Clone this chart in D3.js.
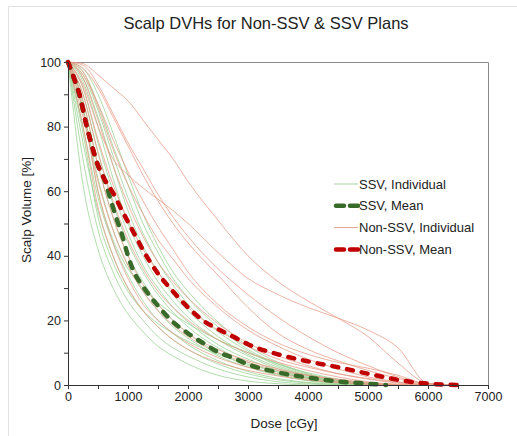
<!DOCTYPE html>
<html>
<head>
<meta charset="utf-8">
<script src="https://cdn.jsdelivr.net/npm/d3@7"></script>
<style>
  html, body { margin: 0; padding: 0; background: #fff; }
  svg { display: block; }
</style>
</head>
<body>
<svg id="chart" width="517" height="436" font-family="Liberation Sans, Arial, sans-serif"></svg>
<script>
// dose grid shared by every curve (cGy)
const doses = [0, 250, 500, 750, 1000, 1250, 1500, 1750, 2000, 2500, 3000, 3500, 4000, 4500, 5000, 5500, 6000, 6500];

// SSV plans, individual DVHs (volume % at each dose)
const ssvIndividual = [
  [100, 62, 42, 30, 22, 16.5, 12, 9, 6.5, 3, 1.2, 0.4, 0, 0, 0, 0, 0, 0],
  [100, 70, 48, 35, 26, 20, 15, 11.5, 9, 5, 2.5, 1, 0.3, 0, 0, 0, 0, 0],
  [100, 75, 54, 40, 30, 23, 18, 14, 11, 6.5, 3.5, 1.6, 0.6, 0.1, 0, 0, 0, 0],
  [100, 80, 58, 44, 34, 26, 20, 16, 12.5, 7.5, 4.2, 2, 0.8, 0.2, 0, 0, 0, 0],
  [100, 85, 64, 48, 37, 29, 23, 18, 14.5, 9, 5.5, 3, 1.3, 0.4, 0, 0, 0, 0],
  [100, 88, 68, 52, 40, 32, 25, 20, 16, 10, 6, 3.3, 1.5, 0.5, 0, 0, 0, 0],
  [100, 90, 72, 56, 44, 35, 28, 22.5, 18, 11.5, 7, 4, 2, 0.7, 0.1, 0, 0, 0],
  [100, 92, 75, 60, 47, 37, 30, 24, 19.5, 12.5, 8, 4.5, 2.2, 0.8, 0.1, 0, 0, 0],
  [100, 94, 80, 64, 50, 40, 32, 26, 21, 14, 9, 5, 2.5, 1, 0.2, 0, 0, 0],
  [100, 95, 83, 68, 54, 43, 35, 28, 23, 15, 9.5, 5.5, 2.8, 1, 0.2, 0, 0, 0],
  [100, 96, 85, 71, 58, 47, 38, 31, 25, 16.5, 10.5, 6, 3, 1.2, 0.3, 0, 0, 0],
  [100, 97, 87, 74, 62, 50, 41, 33, 27, 18, 11, 6.5, 3.3, 1.3, 0.3, 0, 0, 0],
  [100, 98, 90, 78, 65, 53, 43, 35, 29, 19.5, 12, 7, 3.5, 1.5, 0.4, 0, 0, 0],
  [100, 86, 60, 45, 36, 30, 25.5, 22, 19, 14, 10, 6.5, 3.8, 1.8, 0.6, 0, 0, 0],
  [100, 78, 52, 38, 29, 23, 19, 16, 13.5, 9.5, 6.5, 4, 2.2, 1, 0.3, 0, 0, 0]
];

// Non-SSV plans, individual DVHs
const nonSsvIndividual = [
  [100, 99.5, 96, 92, 88, 82, 76, 70, 63, 51, 40, 32, 26, 20.7, 15, 6.8, 0.5, 0],
  [100, 93, 80, 70, 65, 61, 57.5, 54, 50, 41, 33, 28, 24, 20.7, 17, 11.5, 0.5, 0],
  [100, 96, 87, 76, 66, 57, 49, 42, 35, 25, 18, 13, 9.5, 7, 5.2, 3, 0.3, 0],
  [100, 98, 92, 83, 74, 65, 57, 50, 44, 34, 24, 16, 11, 7.5, 4.5, 2, 0, 0],
  [100, 90, 72, 57, 45, 36, 29, 24, 20, 14, 10, 7, 4.5, 2.5, 1, 0.2, 0, 0],
  [100, 88, 68, 52, 40, 31, 25, 20, 16, 11, 7.5, 5, 3, 1.5, 0.5, 0, 0, 0],
  [100, 85, 60, 44, 33, 25, 20, 16, 13, 8.5, 5.5, 3.5, 2, 1, 0.3, 0, 0, 0],
  [100, 95, 82, 68, 56, 46, 38, 32, 27, 19, 13, 9, 6, 3.5, 1.8, 0.6, 0, 0],
  [100, 97, 86, 73, 62, 53, 45, 39, 33, 24, 17, 12, 8, 5, 2.5, 1, 0, 0],
  [100, 80, 55, 40, 30, 23, 18, 14, 11, 7, 4.5, 2.8, 1.5, 0.7, 0.2, 0, 0, 0],
  [100, 99, 93, 84, 75, 67, 59, 52, 46, 36, 28, 21, 15, 10, 6, 2.5, 0.3, 0],
  [100, 92, 76, 62, 51, 42, 35, 29, 24, 17, 12, 8, 5.5, 3.5, 2, 0.8, 0.1, 0],
  [100, 83, 63, 48, 37, 29, 23, 18.5, 15, 10, 7, 4.5, 3, 1.8, 0.8, 0.2, 0, 0]
];

// mean curves
const ssvMeanDose = [0, 100, 200, 300, 400, 500, 600, 700, 800, 900, 1000, 1100, 1250, 1500, 1750, 2000, 2250, 2500, 2750, 3000, 3500, 4000, 4500, 5000, 5300];
const ssvMean = [100, 95, 89, 81, 74, 68, 64, 58, 52, 46.5, 40, 35, 30.5, 24.5, 19.5, 16, 13, 10.2, 8.4, 6.4, 3.9, 2.3, 1.1, 0.4, 0];
const nonSsvMeanDose = [0, 100, 200, 300, 400, 500, 600, 750, 900, 1000, 1100, 1250, 1500, 1750, 2000, 2250, 2500, 2750, 3000, 3500, 4000, 4500, 5000, 5500, 6000, 6500];
const nonSsvMean = [100, 95, 89.5, 81, 74, 68, 64, 59.5, 54, 50.5, 47, 41.8, 34.5, 29, 24, 20, 17.3, 15, 12.6, 9.5, 7.3, 5.5, 3.5, 1.6, 0.4, 0];

const xTicks = [0, 1000, 2000, 3000, 4000, 5000, 6000, 7000];
const yTicks = [0, 20, 40, 60, 80, 100];

const svg = d3.select('#chart');
const margin = { left: 68, right: 29, top: 62, bottom: 51 };
const width = +svg.attr('width');
const height = +svg.attr('height');
const innerWidth = width - margin.left - margin.right;
const innerHeight = height - margin.top - margin.bottom;

// faint frame (left and top edges) around the whole picture
svg.append('path')
  .attr('d', `M8.5,${height}V6.5H${width}`)
  .attr('fill', 'none').attr('stroke', '#e2e2e2');

svg.append('text')
  .attr('x', 266).attr('y', 29)
  .attr('text-anchor', 'middle')
  .attr('font-size', 16.5)
  .attr('fill', '#222')
  .text('Scalp DVHs for Non-SSV & SSV Plans');

const g = svg.append('g').attr('transform', `translate(${margin.left},${margin.top})`);

const xScale = d3.scaleLinear().domain([0, 7000]).range([0, innerWidth]);
const yScale = d3.scaleLinear().domain([0, 100]).range([innerHeight, 0]);

// top / right border of plot
g.append('path')
  .attr('d', `M0,0.5H${innerWidth + 0.5}V${innerHeight}`)
  .attr('fill', 'none').attr('stroke', '#8a8a8a');

const line = d3.line()
  .x(d => xScale(d[0]))
  .y(d => yScale(d[1]))
  .curve(d3.curveMonotoneX);

// keep points up to the first zero of a curve
const toPoints = v => doses.map((d, i) => [d, v[i]]).filter((p, i) => i === 0 || v[i - 1] > 0);

const curves = g.append('g');

curves.selectAll('.ssv')
  .data(ssvIndividual)
  .join('path')
  .attr('class', 'ssv')
  .attr('d', v => line(toPoints(v)))
  .attr('fill', 'none')
  .attr('stroke', '#97d08f')
  .attr('stroke-opacity', 0.75)
  .attr('stroke-width', 1);

curves.selectAll('.nonssv')
  .data(nonSsvIndividual)
  .join('path')
  .attr('class', 'nonssv')
  .attr('d', v => line(toPoints(v)))
  .attr('fill', 'none')
  .attr('stroke', '#e69a86')
  .attr('stroke-opacity', 0.75)
  .attr('stroke-width', 1);

curves.append('path')
  .attr('d', line(ssvMeanDose.map((d, i) => [d, ssvMean[i]])))
  .attr('fill', 'none')
  .attr('stroke', '#386a2a')
  .attr('stroke-width', 4.5)
  .attr('stroke-linecap', 'round')
  .attr('stroke-dasharray', '6,9');

curves.append('path')
  .attr('d', line(nonSsvMeanDose.map((d, i) => [d, nonSsvMean[i]])))
  .attr('fill', 'none')
  .attr('stroke', '#c00000')
  .attr('stroke-width', 4.5)
  .attr('stroke-linecap', 'round')
  .attr('stroke-dasharray', '6,9');

// axes: minor ticks every 500 / 10, labels only on the major ones
const xAxis = d3.axisBottom(xScale).tickValues(d3.range(0, 7001, 500)).tickSize(4).tickSizeOuter(0)
  .tickFormat(d3.format('d'));
const yAxis = d3.axisLeft(yScale).tickValues(d3.range(0, 101, 10)).tickSize(4).tickSizeOuter(0)
  .tickFormat(d3.format('d'));

const xAxisG = g.append('g')
  .attr('transform', `translate(0,${innerHeight})`)
  .call(xAxis);
const yAxisG = g.append('g').call(yAxis);

xAxisG.selectAll('.tick').filter(d => !xTicks.includes(d)).select('text').remove();
yAxisG.selectAll('.tick').filter(d => !yTicks.includes(d)).select('text').remove();

[xAxisG, yAxisG].forEach(a => {
  a.attr('font-family', null).attr('font-size', 12.5);
  a.select('.domain').attr('stroke', '#333');
  a.selectAll('.tick line').attr('stroke', '#333');
  a.selectAll('.tick text').attr('fill', '#222');
});
xAxisG.selectAll('.tick text').attr('y', 16).attr('dy', null);
yAxisG.selectAll('.tick text').attr('x', -7);

svg.append('text')
  .attr('x', 284).attr('y', 428)
  .attr('text-anchor', 'middle')
  .attr('font-size', 13.5)
  .attr('fill', '#222')
  .text('Dose [cGy]');

svg.append('text')
  .attr('transform', 'translate(31,210) rotate(-90)')
  .attr('text-anchor', 'middle')
  .attr('font-size', 13.5)
  .attr('fill', '#222')
  .text('Scalp Volume [%]');

// legend
const legendItems = [
  { label: 'SSV, Individual', color: '#a9cf9f', mean: false },
  { label: 'SSV, Mean', color: '#386a2a', mean: true },
  { label: 'Non-SSV, Individual', color: '#e3a08e', mean: false },
  { label: 'Non-SSV, Mean', color: '#c00000', mean: true }
];

const legend = svg.append('g').attr('transform', 'translate(334,184)');
const rows = legend.selectAll('g')
  .data(legendItems)
  .join('g')
  .attr('transform', (d, i) => `translate(0,${i * 21.8})`);

rows.append('line')
  .attr('x1', d => d.mean ? 2 : 0)
  .attr('x2', 24)
  .attr('stroke', d => d.color)
  .attr('stroke-width', d => d.mean ? 4.5 : 1)
  .attr('stroke-linecap', d => d.mean ? 'round' : 'butt')
  .attr('stroke-dasharray', d => d.mean ? '8,6' : null);

rows.append('text')
  .attr('x', 25)
  .attr('dy', '0.36em')
  .attr('font-size', 13)
  .attr('fill', '#222')
  .text(d => d.label);
</script>
</body>
</html>
